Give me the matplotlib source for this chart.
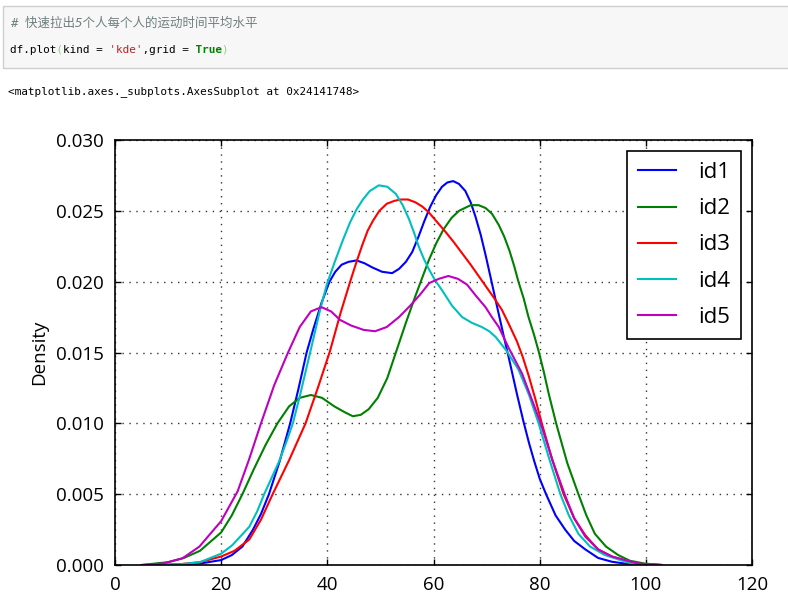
# %% kde screenshot recreation
import matplotlib
matplotlib.use("Agg")
import matplotlib.pyplot as plt
from matplotlib.patches import Rectangle

# %% data
labels = ["id1", "id2", "id3", "id4", "id5"]
colors = ["b", "g", "r", "c", "m"]

x_id1 = [8, 12, 16, 20, 22, 24, 26, 27.5, 29.0, 31.0, 33.0, 34.6, 36.1, 37.4, 38.9, 40.4, 41.5, 42.7, 44.0,
         45.5, 47, 48.5, 50.3, 52.2, 53.5, 54.8, 56.0, 57.2, 58.3, 59.4, 60.5, 61.6, 62.6, 63.7, 64.8, 66, 67,
         67.9, 68.9, 69.8, 70.7, 72.0, 73.2, 74.2, 75.7, 76.9, 78, 79, 80, 81.2, 83, 84.8, 86.5, 88.6, 91, 93.6,
         97, 100]
y_id1 = [0, 0.00002, 0.0001, 0.00035, 0.0007, 0.0013, 0.0025, 0.0036, 0.0050, 0.0073, 0.0100, 0.0125, 0.0150,
         0.0167, 0.0185, 0.0200, 0.0207, 0.0212, 0.0214, 0.0215, 0.0213, 0.0210, 0.0207, 0.0206, 0.0209, 0.0214,
         0.0221, 0.0232, 0.0243, 0.0253, 0.0261, 0.0267, 0.0270, 0.0271, 0.0269, 0.0264, 0.0256, 0.0246, 0.0233,
         0.0219, 0.0204, 0.0182, 0.0162, 0.0146, 0.0121, 0.0102, 0.0086, 0.0073, 0.0061, 0.0050, 0.0035, 0.0025,
         0.0017, 0.0011, 0.0005, 0.00023, 0.00005, 0]

x_id2 = [5, 10, 13, 16, 20, 22, 24.0, 26.2, 28.4, 30.6, 32.8, 34.8, 36.9, 39, 41.3, 43.2, 44.8, 46.3, 47.8,
         49.5, 51.3, 53.0, 54.8, 56.6, 58.0, 59.1, 60.5, 61.9, 63.4, 64.8, 67.0, 68.5, 69.8, 71.0, 72.3, 73.3,
         74.3, 75.2, 76.0, 77.0, 77.9, 78.9, 79.8, 80.8, 81.7, 83.1, 85.2, 87.3, 88.8, 90.4, 92.5, 94.8, 97,
         99.8, 103]
y_id2 = [0, 0.0002, 0.0005, 0.0010, 0.0023, 0.0035, 0.0050, 0.0068, 0.0085, 0.0100, 0.0112, 0.0118, 0.0120,
         0.0118, 0.0112, 0.0108, 0.0105, 0.0106, 0.0110, 0.0118, 0.0132, 0.0151, 0.0171, 0.0190, 0.0204, 0.0215,
         0.0227, 0.0237, 0.0245, 0.0250, 0.0254, 0.0254, 0.0252, 0.0248, 0.0240, 0.0232, 0.0222, 0.0211, 0.0200,
         0.0188, 0.0175, 0.0163, 0.0151, 0.0136, 0.0121, 0.0100, 0.0072, 0.0050, 0.0035, 0.0022, 0.0013, 0.0007,
         0.0003, 0.0001, 0]

x_id3 = [7, 12, 16, 20, 22.5, 25.3, 27.5, 29.7, 32.8, 35.9, 38.3, 40.5, 42.5, 44.3, 45.5, 46.6, 47.6, 48.6,
         49.8, 51.2, 52.6, 53.8, 55.2, 56.6, 57.9, 59.1, 60.7, 62.3, 63.8, 65.4, 67, 68.5, 70, 71.5, 72.9, 74.2,
         75.7, 76.8, 77.9, 79.2, 80.4, 82.4, 84.5, 86.5, 88.6, 91, 93.6, 98, 103]
y_id3 = [0, 0.00005, 0.0002, 0.0006, 0.0010, 0.0018, 0.0032, 0.0050, 0.0074, 0.0100, 0.0126, 0.0151, 0.0178,
         0.0200, 0.0214, 0.0226, 0.0236, 0.0243, 0.0250, 0.0255, 0.0257, 0.0258, 0.0258, 0.0256, 0.0253, 0.0249,
         0.0242, 0.0235, 0.0228, 0.0220, 0.0212, 0.0204, 0.0196, 0.0188, 0.0180, 0.0170, 0.0158, 0.0147, 0.0134,
         0.0117, 0.0100, 0.0074, 0.0050, 0.0033, 0.0021, 0.0011, 0.0006, 0.0001, 0]

x_id4 = [7, 12, 16, 20, 22.1, 25.3, 26.8, 28.1, 30.9, 32.3, 33.5, 34.8, 36.0, 37.2, 38.5, 39.9, 41.4, 43.0,
         44.3, 45.5, 46.7, 48.0, 49.7, 51.3, 52.9, 54.2, 55.4, 56.3, 57.2, 58.2, 59.1, 60.3, 61.6, 63.5, 65.4,
         67.2, 69.1, 70.5, 71.7, 73.8, 76.0, 78.0, 79.8, 81.8, 83.9, 85.5, 87.3, 89.5, 92.3, 97.3, 102]
y_id4 = [0, 0.00004, 0.0002, 0.0008, 0.0014, 0.0027, 0.0038, 0.0050, 0.0073, 0.0087, 0.0100, 0.0119, 0.0138,
         0.0157, 0.0178, 0.0198, 0.0214, 0.0230, 0.0242, 0.0251, 0.0258, 0.0264, 0.0268, 0.0267, 0.0262, 0.0254,
         0.0244, 0.0235, 0.0225, 0.0216, 0.0209, 0.0201, 0.0194, 0.0183, 0.0175, 0.0171, 0.0168, 0.0165, 0.0161,
         0.0151, 0.0138, 0.0120, 0.0100, 0.0075, 0.0050, 0.0035, 0.0022, 0.0013, 0.0007, 0.0001, 0]

x_id5 = [5, 9, 12.7, 15.9, 20.0, 23.1, 25.3, 27.5, 30.0, 32.6, 34.8, 36.9, 38.9, 40.7, 42.4, 44.5, 46.8, 49.0,
         51.2, 53.5, 55.6, 57.5, 59.2, 61, 62.8, 64.6, 66.3, 68.0, 69.8, 71.0, 72.3, 74.2, 76.7, 78.5, 80.2,
         82.4, 84.7, 86.5, 88.6, 91, 93.6, 98.6, 103]
y_id5 = [0, 0.0001, 0.00047, 0.0013, 0.0031, 0.0052, 0.0075, 0.0100, 0.0127, 0.0150, 0.0168, 0.0179, 0.0182,
         0.0179, 0.0173, 0.0169, 0.0166, 0.0165, 0.0168, 0.0175, 0.0183, 0.0191, 0.0199, 0.0202, 0.0204, 0.0202,
         0.0198, 0.0190, 0.0182, 0.0175, 0.0168, 0.0153, 0.0135, 0.0117, 0.0100, 0.0074, 0.0050, 0.0033, 0.0020,
         0.0011, 0.0006, 0.0001, 0]

xs = [x_id1, x_id2, x_id3, x_id4, x_id5]
ys = [y_id1, y_id2, y_id3, y_id4, y_id5]

x_ticks = [0, 20, 40, 60, 80, 100, 120]
y_ticks = [0.000, 0.005, 0.010, 0.015, 0.020, 0.025, 0.030]

comment = "# 快速拉出5个人每个人的运动时间平均水平"
code = "df.plot(kind = 'kde',grid = True)"
output = "<matplotlib.axes._subplots.AxesSubplot at 0x24141748>"

# %% figure
W, H = 788, 614
fig = plt.figure(figsize=(W / 100, H / 100), dpi=100)
mono = ["DejaVu Sans Mono", "Noto Sans CJK SC"]


def fx(px):
    return px / W


def fy(py):
    return 1 - py / H


# code cell box
fig.patches.append(Rectangle((fx(3), fy(68)), fx(790), 62 / H, transform=fig.transFigure,
                             facecolor="#f7f7f7", edgecolor="#cfcfcf", lw=1))

fig.text(fx(10), fy(23), comment, family=mono, style="italic", color="#6f7f7f", fontsize=9, va="center")


def part(s, keep):  # keep only chars in index set, blank the rest (monospace keeps alignment)
    return "".join(c if i in keep else " " for i, c in enumerate(s))


paren = {code.index("("), code.index(")")}
kde = set(range(code.index("'"), code.rindex("'") + 1))
true = set(range(code.index("True"), code.index("True") + 4))
rest = set(range(len(code))) - paren - kde - true
fs = 7.9
fig.text(fx(10), fy(50), part(code, rest), family=mono, color="#000000", fontsize=fs, va="center")
fig.text(fx(10), fy(50), part(code, kde), family=mono, color="#ba2121", fontsize=fs, va="center")
fig.text(fx(10), fy(50), part(code, true), family=mono, color="#008000", fontsize=fs, va="center", weight="bold")
fig.text(fx(10), fy(50), part(code, paren), family=mono, color="#8fd08f", fontsize=fs, va="center")

fig.text(fx(8), fy(92), output, family=mono, color="#000000", fontsize=fs, va="center")

# %% the plot
ax = fig.add_axes([fx(115), fy(565), fx(752 - 115), (565 - 140) / H])
for x, y, c, lab in zip(xs, ys, colors, labels):
    ax.plot(x, y, color=c, lw=1.5, label=lab)

ax.set_xlim(0, 120)
ax.set_ylim(0, 0.030)
ax.set_xticks(x_ticks)
ax.set_yticks(y_ticks)
ax.set_yticklabels([f"{v:.3f}" for v in y_ticks])
ax.grid(True, color="#333333", linestyle=(0, (1, 4)), lw=1)
ax.tick_params(direction="in", length=4, width=1, top=True, right=True, labelsize=13.5, pad=8,
               colors="k")
for lbl in ax.get_xticklabels() + ax.get_yticklabels():
    lbl.set_family("Open Sans")
for s in ax.spines.values():
    s.set_linewidth(1.2)
ax.set_ylabel("Density", family="Open Sans", fontsize=13.5, labelpad=6)

leg = ax.legend(loc="upper right", prop={"family": "Open Sans", "size": 16}, fancybox=False,
                framealpha=1, edgecolor="k", handlelength=1.7, handletextpad=1.0, labelspacing=0.68,
                borderpad=0.5, borderaxespad=0.5)
leg.get_frame().set_linewidth(1.2)

fig.savefig("out.png", dpi=100)
